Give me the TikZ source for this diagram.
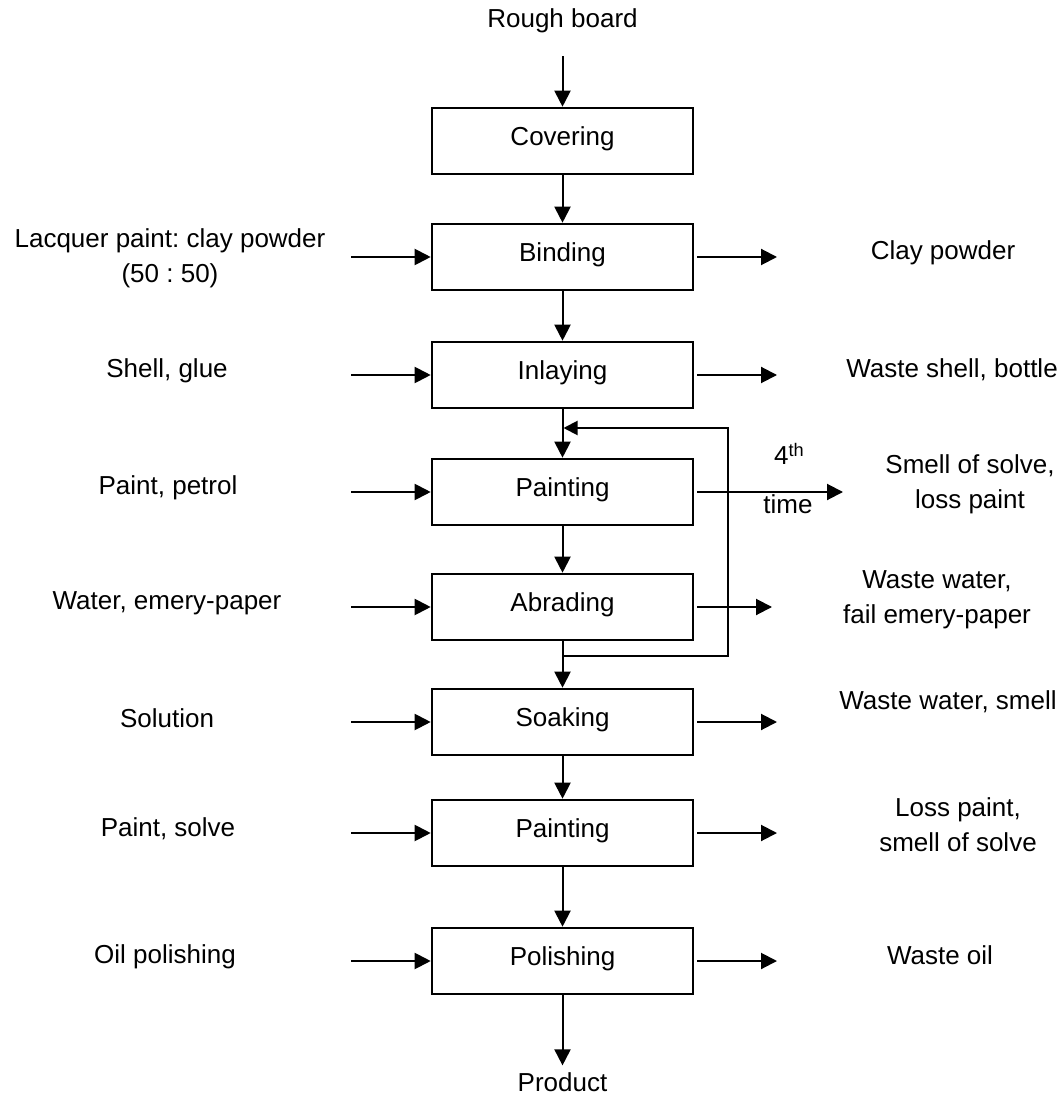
\documentclass[tikz,border=0pt]{standalone}
\usepackage{fontspec}
\setmainfont{Liberation Sans}
\usetikzlibrary{arrows.meta}
\frenchspacing

\begin{document}
\begin{tikzpicture}[x=0.5pt,y=-0.5pt,
  every node/.style={font=\fontsize{13}{17.5}\selectfont},
  flow/.style={-{Triangle[length=8pt,width=8pt]},line width=1pt},
  stage/.style={draw,line width=1.3pt,minimum width=130.5pt,minimum height=33pt,
    text height=9.5pt,text depth=5pt,inner sep=0pt},
  side/.style={align=center}]
\useasboundingbox (0,0) rectangle (1063,1095);

% main line
\node (rough) at (562.5,21) {Rough board};
\node[stage] (cover) at (562.5,141) {Covering};
\node[stage] (bind) at (562.5,257) {Binding};
\node[stage] (inlay) at (562.5,375) {Inlaying};
\node[stage] (paint) at (562.5,492) {Painting};
\node[stage] (abra) at (562.5,607) {Abrading};
\node[stage] (soak) at (562.5,722) {Soaking};
\node[stage] (paintb) at (562.5,833) {Painting};
\node[stage] (polish) at (562.5,961) {Polishing};
\node (product) at (562.5,1082) {Product};

% inputs
\node[side] (lacq) at (170,258) {Lacquer paint: clay powder\\(50 : 50)};
\node[side] (shell) at (167,371) {Shell, glue};
\node[side] (petrol) at (168,488) {Paint, petrol};
\node[side] (water) at (167,603) {Water, emery-paper};
\node[side] (solu) at (167,718) {Solution};
\node[side] (solve) at (168,829) {Paint, solve};
\node[side] (oil) at (165,957) {Oil polishing};

% outputs
\node[side] (clay) at (943,253) {Clay powder};
\node[side] (wshell) at (952,370) {Waste shell, bottle};
\node[side] (smell) at (970,484) {Smell of solve,\\loss paint};
\node[side] (wwater) at (937,600) {Waste water,\\fail emery-paper};
\node[side] (wsmell) at (948,702) {Waste water, smell};
\node[side] (loss) at (958,825) {Loss paint,\\smell of solve};
\node[side] (woil) at (940,955) {Waste oil};

\coordinate (inx) at (351,0);
\coordinate (outx) at (777,0);
\coordinate (farx) at (843,0);
\coordinate (nearx) at (772,0);

\draw[flow,shorten <=8pt] (rough) -- (cover);
\foreach \a/\b in {cover/bind,bind/inlay,inlay/paint,paint/abra,abra/soak,soak/paintb,paintb/polish,polish/product}
  \draw[flow] (\a) -- (\b);
\foreach \s in {bind,inlay,paint,abra,soak,paintb,polish}
  \draw[flow] (inx |- \s.west) -- (\s.west);
\foreach \s in {bind,inlay,soak,paintb,polish}
  \draw[flow,shorten <=1.5pt] (\s.east) -- (outx |- \s.east);
\draw[flow,shorten <=1.5pt] (abra.east) -- (nearx |- abra.east);
\draw[flow,shorten <=1.5pt] (paint.east) -- (farx |- paint.east)
  node[pos=0.64,above=13pt,inner sep=0pt] {4\textsuperscript{th}}
  node[pos=0.63,below=1pt,inner sep=0pt] {time};

% repeat loop
\coordinate (loopout) at (562.5,656);
\coordinate (loopx) at (728,540);
\coordinate (loopin) at (563.5,428);
\draw[line width=1pt,-{Triangle[length=7pt,width=7pt]}] (loopout) -| (loopx) |- (loopin);
\end{tikzpicture}
\end{document}
